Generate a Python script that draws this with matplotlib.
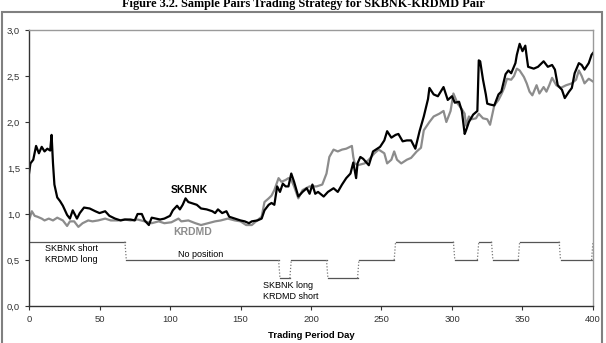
import matplotlib.pyplot as plt
from matplotlib.patches import Rectangle

# Normalised prices
skbnk_days = [0, 1, 3, 5, 7, 9, 11, 13, 15, 16, 17, 18, 20, 22, 24, 27, 29, 31, 34, 36, 39, 43, 47, 50,
              54, 57, 61, 65, 68, 72, 75, 77, 80, 82, 85, 87, 90, 93, 96, 100, 102, 105, 107, 109, 111,
              113, 115, 119, 122, 126, 130, 132, 134, 137, 140, 142, 146, 150, 153, 156, 158, 162, 165,
              167, 170, 172, 174, 176, 178, 180, 182, 184, 186, 188, 191, 194, 197, 199, 201, 203, 205,
              209, 212, 216, 219, 222, 225, 228, 230, 232, 233, 235, 237, 241, 244, 246, 249, 252, 254,
              257, 260, 262, 265, 268, 271, 274, 277, 280, 283, 284, 287, 290, 294, 297, 300, 302, 305,
              307, 309, 310, 312, 315, 318, 319, 320, 322, 324, 325, 327, 330, 333, 335, 338, 340, 342,
              345, 346, 348, 350, 352, 353, 354, 358, 361, 365, 368, 371, 373, 375, 378, 380, 383, 385,
              387, 390, 392, 394, 397, 399, 400]
skbnk = [1.44, 1.55, 1.59, 1.74, 1.66, 1.73, 1.68, 1.71, 1.69, 1.86, 1.55, 1.32, 1.18, 1.14, 1.09, 0.99,
         0.95, 1.04, 0.95, 1.01, 1.07, 1.06, 1.03, 1.01, 1.03, 0.98, 0.95, 0.93, 0.94, 0.94, 0.93, 1.00,
         1.00, 0.93, 0.88, 0.96, 0.95, 0.94, 0.95, 0.98, 1.04, 1.09, 1.05, 1.10, 1.17, 1.13, 1.12, 1.10,
         1.06, 1.05, 1.03, 1.01, 1.05, 1.01, 1.03, 0.97, 0.95, 0.93, 0.92, 0.90, 0.92, 0.93, 0.95, 1.04,
         1.10, 1.12, 1.10, 1.30, 1.24, 1.33, 1.30, 1.30, 1.44, 1.35, 1.19, 1.24, 1.28, 1.22, 1.32, 1.22,
         1.24, 1.19, 1.24, 1.28, 1.24, 1.32, 1.39, 1.44, 1.56, 1.39, 1.55, 1.62, 1.60, 1.53, 1.68, 1.70,
         1.73, 1.80, 1.90, 1.83, 1.86, 1.87, 1.79, 1.80, 1.80, 1.71, 1.90, 2.06, 2.25, 2.37, 2.30, 2.28,
         2.38, 2.24, 2.28, 2.21, 2.22, 2.12, 1.87, 1.91, 2.00, 2.08, 2.12, 2.67, 2.66, 2.46, 2.30, 2.20,
         2.19, 2.18, 2.30, 2.33, 2.52, 2.56, 2.53, 2.64, 2.73, 2.85, 2.77, 2.83, 2.71, 2.60, 2.58, 2.60,
         2.66, 2.60, 2.62, 2.57, 2.40, 2.35, 2.26, 2.33, 2.37, 2.53, 2.64, 2.62, 2.57, 2.64, 2.73, 2.75]

krdmd_days = [0, 2, 4, 6, 9, 11, 14, 17, 20, 24, 27, 29, 32, 35, 38, 42, 45, 49, 54, 58, 63, 68, 72, 77,
              82, 87, 92, 96, 101, 106, 108, 113, 118, 122, 127, 132, 136, 141, 146, 150, 154, 158, 161,
              165, 167, 170, 172, 174, 177, 179, 182, 184, 186, 188, 191, 194, 199, 204, 208, 211, 213,
              216, 219, 222, 225, 229, 230, 231, 233, 238, 241, 245, 248, 252, 254, 257, 259, 261, 264,
              268, 271, 275, 278, 280, 284, 287, 291, 294, 296, 299, 301, 304, 307, 309, 310, 312, 314,
              317, 319, 322, 325, 327, 330, 333, 335, 337, 339, 342, 344, 346, 348, 351, 353, 355, 357,
              360, 362, 365, 367, 369, 371, 374, 377, 381, 385, 388, 390, 392, 394, 397, 400]
krdmd = [0.93, 1.03, 0.98, 0.97, 0.95, 0.93, 0.95, 0.93, 0.96, 0.93, 0.87, 0.92, 0.92, 0.86, 0.90, 0.93,
         0.92, 0.93, 0.95, 0.93, 0.93, 0.94, 0.93, 0.94, 0.92, 0.90, 0.92, 0.90, 0.91, 0.95, 0.92, 0.93,
         0.90, 0.88, 0.90, 0.92, 0.93, 0.95, 0.93, 0.92, 0.88, 0.88, 0.92, 0.97, 1.13, 1.17, 1.20, 1.26,
         1.39, 1.35, 1.37, 1.39, 1.37, 1.30, 1.17, 1.26, 1.30, 1.30, 1.32, 1.44, 1.62, 1.70, 1.68, 1.70,
         1.71, 1.74, 1.62, 1.55, 1.53, 1.55, 1.59, 1.66, 1.70, 1.66, 1.55, 1.59, 1.68, 1.59, 1.55, 1.59,
         1.61, 1.68, 1.72, 1.91, 2.00, 2.06, 2.09, 2.12, 2.00, 2.12, 2.31, 2.20, 2.14, 2.09, 1.96, 2.06,
         2.03, 2.04, 2.09, 2.04, 2.03, 1.97, 2.18, 2.24, 2.30, 2.37, 2.47, 2.46, 2.50, 2.58, 2.56, 2.49,
         2.42, 2.33, 2.29, 2.40, 2.31, 2.38, 2.33, 2.40, 2.48, 2.40, 2.37, 2.40, 2.42, 2.46, 2.56, 2.50,
         2.42, 2.47, 2.44]

# Trading position: 0.7 = SKBNK short / KRDMD long, 0.5 = none, 0.3 = SKBNK long / KRDMD short
pos_start = [0, 69, 178, 186, 212, 234, 260, 302, 319, 329, 348, 377, 400]
pos_end = [68, 177, 185, 211, 233, 259, 301, 318, 328, 347, 376, 399, 400]
pos_level = [0.7, 0.5, 0.3, 0.5, 0.3, 0.5, 0.7, 0.5, 0.7, 0.5, 0.7, 0.5, 0.7]

plt.rcParams['font.family'] = ['Liberation Sans', 'DejaVu Sans']

fig = plt.figure(figsize=(6.06, 3.43), dpi=100)
ax = fig.add_axes([0.0479, 0.1079, 0.9306, 0.8046])

# outer chart frame
fig.patches.append(Rectangle((2 / 606, -0.05), 600 / 606, 1 - 12 / 343 + 0.05, transform=fig.transFigure,
                             fill=False, edgecolor='#808080', linewidth=1.5))

fig.text(0.5, 1 - 10 / 343, "Figure 3.2. Sample Pairs Trading Strategy for SKBNK-KRDMD Pair",
         ha='center', va='bottom', fontsize=8.8, fontweight='bold', family='Liberation Serif')

ax.plot(krdmd_days, krdmd, color='#8c8c8c', linewidth=1.6)
ax.plot(skbnk_days, skbnk, color='black', linewidth=1.6)

# position line: solid holding periods, dotted switches
for i in range(len(pos_level)):
    ax.plot([pos_start[i], pos_end[i]], [pos_level[i]] * 2, color='#555555', linewidth=0.9)
    if i + 1 < len(pos_level):
        ax.plot([pos_end[i], pos_start[i + 1]], [pos_level[i], pos_level[i + 1]],
                color='#777777', linewidth=0.9, linestyle=(0, (1, 1.5)))

ax.text(114, 1.26, "SKBNK", fontsize=7.5, fontweight='bold', color='black', ha='center', va='center')
ax.text(116, 0.80, "KRDMD", fontsize=7.5, fontweight='bold', color='#8c8c8c', ha='center', va='center')
ax.text(11, 0.63, "SKBNK short", fontsize=6.5, ha='left', va='center')
ax.text(11, 0.50, "KRDMD long", fontsize=6.5, ha='left', va='center')
ax.text(122, 0.56, "No position", fontsize=6.5, ha='center', va='center')
ax.text(166, 0.22, "SKBNK long", fontsize=6.5, ha='left', va='center')
ax.text(166, 0.10, "KRDMD short", fontsize=6.5, ha='left', va='center')

ax.set_xlim(0, 400)
ax.set_ylim(0, 3.0)
ax.set_xticks(range(0, 401, 50))
ax.set_yticks([0, 0.5, 1.0, 1.5, 2.0, 2.5, 3.0])
ax.set_yticklabels([f"{v:.1f}".replace('.', ',') for v in [0, 0.5, 1.0, 1.5, 2.0, 2.5, 3.0]])
ax.tick_params(axis='both', labelsize=6.8, length=3, width=0.8, colors='#333333', direction='out')
ax.set_xlabel("Trading Period Day", fontsize=6.8, fontweight='bold', labelpad=5)

for side in ['left', 'bottom']:
    ax.spines[side].set_color('#333333')
    ax.spines[side].set_linewidth(1.0)
for side in ['top', 'right']:
    ax.spines[side].set_color('#9a9a9a')
    ax.spines[side].set_linewidth(1.0)

fig.savefig("out.png", dpi=100)
